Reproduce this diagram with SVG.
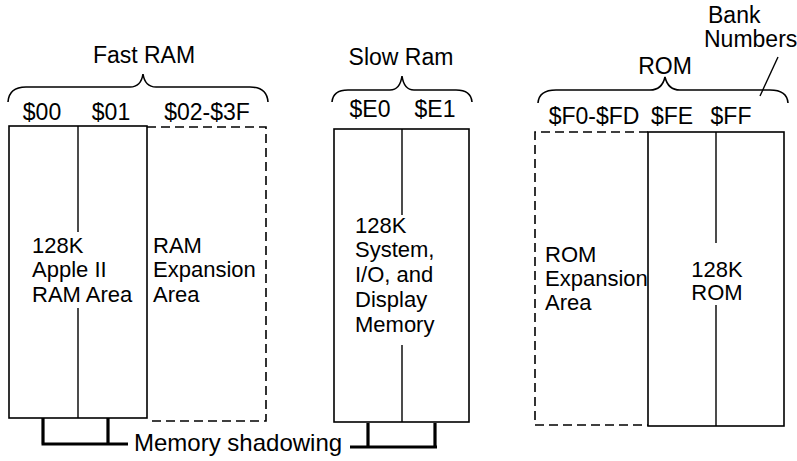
<svg xmlns="http://www.w3.org/2000/svg" width="797" height="461" viewBox="0 0 797 461">
<style>
  text { font-family: "Liberation Sans", Arial, Helvetica, sans-serif; fill: #000; }
  .t { font-size: 23px; }
  .b { font-size: 22px; }
  .s { font-size: 24px; }
  .m { text-anchor: middle; }
  .box { fill: none; stroke: #000; stroke-width: 1.6; }
  .dash { fill: none; stroke: #000; stroke-width: 1.6; stroke-dasharray: 9 5; }
  .div { fill: none; stroke: #000; stroke-width: 1.4; }
  .brace { fill: none; stroke: #000; stroke-width: 1.6; }
  .shadow { fill: none; stroke: #000; stroke-width: 3.2; }
  .ptr { fill: none; stroke: #000; stroke-width: 1.4; }
</style>
<rect x="0" y="0" width="797" height="461" fill="#fff"/>

<g id="fast-ram">
  <text class="t m" x="144" y="63">Fast RAM</text>
  <path class="brace" d="M8,102 Q9,87 26,87 L130,87 Q141,87 143,74 Q145,87 156,87 L250,87 Q267,87 268,102"/>
  <text class="t m" x="42" y="120">$00</text>
  <text class="t m" x="111" y="120">$01</text>
  <text class="t m" x="207" y="120">$02-$3F</text>
  <rect class="box" x="9" y="126" width="138" height="292"/>
  <path class="div" d="M78,126 V232 M78,308 V418"/>
  <path class="dash" d="M147,127 H266 V421 H147"/>
  <text class="b" x="32" y="253">128K</text>
  <text class="b" x="32" y="277">Apple II</text>
  <text class="b" x="32" y="302">RAM Area</text>
  <text class="b" x="153" y="253">RAM</text>
  <text class="b" x="153" y="277">Expansion</text>
  <text class="b" x="153" y="302">Area</text>
</g>

<g id="slow-ram">
  <text class="t m" x="401" y="65">Slow Ram</text>
  <path class="brace" d="M332,102 Q333,90 348,90 L390,90 Q400,90 402,76 Q404,90 414,90 L456,90 Q471,90 472,102"/>
  <text class="t m" x="370" y="117">$E0</text>
  <text class="t m" x="435" y="117">$E1</text>
  <rect class="box" x="334" y="129" width="135" height="293"/>
  <path class="div" d="M402,129 V215 M402,345 V422"/>
  <text class="b" x="355" y="233">128K</text>
  <text class="b" x="355" y="257">System,</text>
  <text class="b" x="355" y="282">I/O, and</text>
  <text class="b" x="355" y="307">Display</text>
  <text class="b" x="355" y="332">Memory</text>
</g>

<g id="rom">
  <text class="t m" x="665" y="74">ROM</text>
  <path class="brace" d="M538,103 Q539,90 556,90 L650,90 Q662,90 665,77 Q668,90 680,90 L770,90 Q787,90 788,103"/>
  <text class="t m" x="594" y="124">$F0-$FD</text>
  <text class="t m" x="672" y="124">$FE</text>
  <text class="t m" x="731" y="124">$FF</text>
  <path class="dash" d="M648,132 H535 V425 H648"/>
  <rect class="box" x="648" y="132" width="136" height="294"/>
  <path class="div" d="M716,132 V243 M716,305 V426"/>
  <text class="b" x="545" y="262">ROM</text>
  <text class="b" x="545" y="286">Expansion</text>
  <text class="b" x="545" y="310">Area</text>
  <text class="b m" x="717" y="277">128K</text>
  <text class="b m" x="717" y="300">ROM</text>
</g>

<g id="bank-numbers">
  <text class="t" x="708" y="23">Bank</text>
  <text class="t" x="704" y="47">Numbers</text>
</g>

<g id="memory-shadowing">
  <text class="s" x="134" y="451">Memory shadowing</text>
</g>

<g id="connectors">
  <path class="shadow" d="M43,418 V444 M108,418 V444 M41.5,444 H128"/>
  <path class="shadow" d="M350,447 H437 M368,423 V447 M435,423 V447"/>
  <path class="ptr" d="M760,96 L778,57"/>
</g>
</svg>
